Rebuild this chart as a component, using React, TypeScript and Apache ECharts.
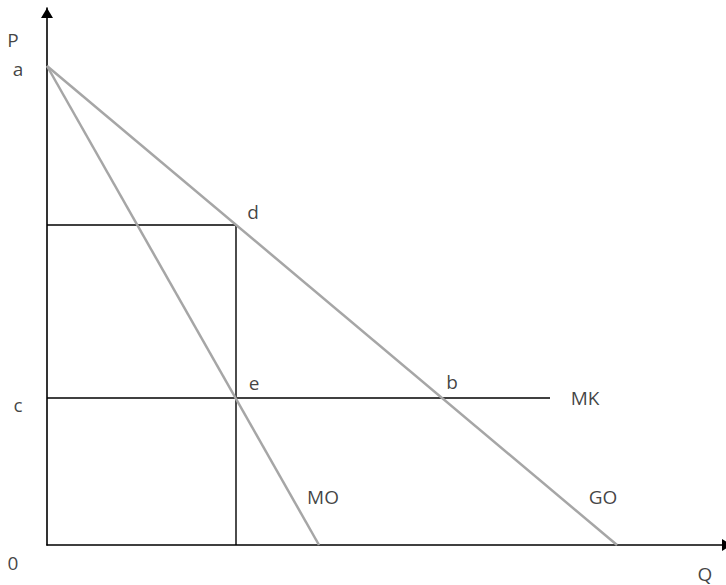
import React, { useEffect, useRef } from "react";
import * as echarts from "echarts";

// Values in diagram units (Q horizontal, P vertical)
const priceA = 479; // intercept a
const priceC = 147; // marginal cost c (MK)
const priceD = 320; // monopoly price at d
const qMonopoly = 189; // quantity at e / d
const qMO = 272; // MO intercept with Q axis
const qGO = 570; // GO intercept with Q axis
const qMKEnd = 503; // MK line end
const xMax = 685;
const yMax = 537;

const goLine = [[0, priceA], [qGO, 0]];
const moLine = [[0, priceA], [qMO, 0]];
const mkLine = [[0, priceC], [qMKEnd, priceC]];
const vLine = [[qMonopoly, priceD], [qMonopoly, 0]];
const hLine = [[0, priceD], [qMonopoly, priceD]];

const labelNames = ["P", "a", "c", "0", "Q", "d", "e", "b", "MK", "MO", "GO"];
const labelX = [-34, -29, -29, -34, 658, 206, 207, 405, 538, 276, 556];
const labelY = [505, 476, 140, -18, -29, 333, 162, 163, 147, 48, 48];

export default function App() {
  const ref = useRef<HTMLDivElement>(null);
  useEffect(() => {
    if (!ref.current) return;
    const chart = echarts.init(ref.current, undefined, { renderer: "svg" });
    const gray = { color: "#a6a6a6", width: 2.5 };
    const black = { color: "#000000", width: 1.4 };
    const lineSeries = (data: number[][], style: any) => ({
      type: "line",
      data,
      showSymbol: false,
      symbol: "none",
      lineStyle: style,
      itemStyle: { color: style.color },
      silent: true,
      clip: false,
    });
    const axisLine = {
      show: true,
      symbol: ["none", "triangle"],
      symbolSize: [12, 10],
      symbolOffset: [0, -5],
      lineStyle: { color: "#000000", width: 1.6 },
    };
    chart.setOption({
      animation: false,
      backgroundColor: "#ffffff",
      grid: {
        left: 47,
        width: 685,
        top: 8,
        height: 537,
        containLabel: false,
        outerBoundsMode: "none",
      },
      xAxis: {
        type: "value",
        min: 0,
        max: xMax,
        splitLine: { show: false },
        axisTick: { show: false },
        axisLabel: { show: false },
        axisLine,
      },
      yAxis: {
        type: "value",
        min: 0,
        max: yMax,
        splitLine: { show: false },
        axisTick: { show: false },
        axisLabel: { show: false },
        axisLine,
      },
      series: [
        lineSeries(hLine, black),
        lineSeries(vLine, black),
        lineSeries(mkLine, black),
        lineSeries(moLine, gray),
        lineSeries(goLine, gray),
        {
          type: "scatter",
          clip: false,
          symbolSize: 0,
          silent: true,
          data: labelNames.map((n, i) => ({ name: n, value: [labelX[i], labelY[i]] })),
          label: {
            show: true,
            position: "inside",
            formatter: "{b}",
            fontFamily: "Open Sans",
            fontSize: 19,
            color: "#111111",
          },
        },
      ],
    });
    return () => chart.dispose();
  }, []);
  return <div ref={ref} style={{ width: 726, height: 585, position: "absolute", left: 0, top: 0 }} />;
}
